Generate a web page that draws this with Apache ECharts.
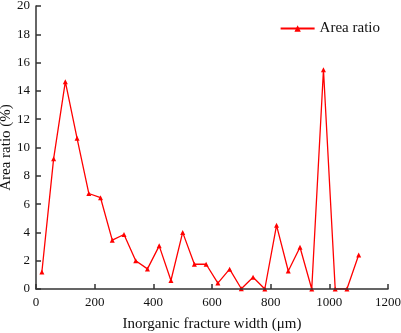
<!DOCTYPE html>
<html>
<head>
<meta charset="utf-8">
<script src="https://cdn.jsdelivr.net/npm/echarts@6/dist/echarts.min.js"></script>
<style>
	html, body { margin: 0; padding: 0; background: #fff; }
	#main { width: 401px; height: 333px; }
</style>
</head>
<body>
<div id="main"></div>
<script type="text/javascript">
	// fracture width (μm) and area ratio (%)
	var widths = [20, 60, 100, 140, 180, 220, 260, 300, 340, 380, 420, 460, 500, 540, 580,
		620, 660, 700, 740, 780, 820, 860, 900, 940, 980, 1020, 1060, 1100];
	var ratios = [1.2, 9.2, 14.65, 10.65, 6.75, 6.45, 3.45, 3.85, 2.0, 1.42, 3.05, 0.6, 4.0, 1.75, 1.75,
		0.42, 1.4, 0.02, 0.83, 0, 4.5, 1.27, 2.95, 0, 15.5, 0, 0, 2.4];
	var xTicks = [0, 200, 400, 600, 800, 1000, 1200];
	var yTicks = [0, 2, 4, 6, 8, 10, 12, 14, 16, 18, 20];

	var points = [];
	for (var i = 0; i < widths.length; i++) {
		points.push([widths[i], ratios[i]]);
	}

	var font = 'Liberation Serif, Times New Roman, serif';
	var chart = echarts.init(document.getElementById('main'));
	var option = {
		animation : false,
		textStyle : { fontFamily : font },
		grid : {
			left : 36,
			right : 13,
			top : 6,
			bottom : 44,
			outerBoundsMode : 'none',
			containLabel : false
		},
		legend : {
			right : 16,
			top : 16,
			itemWidth : 34,
			itemHeight : 8,
			itemGap : 4,
			textStyle : { fontFamily : font, fontSize : 15, color : '#111' },
			data : [ 'Area ratio' ]
		},
		xAxis : {
			type : 'value',
			min : xTicks[0],
			max : xTicks[xTicks.length - 1],
			interval : 200,
			z : 5,
			name : 'Inorganic fracture width (μm)',
			nameLocation : 'middle',
			nameGap : 28,
			nameMoveOverlap : false,
			nameTextStyle : { fontFamily : font, fontSize : 15, color : '#111' },
			splitLine : { show : false },
			axisLine : { lineStyle : { color : '#333', width : 1.5 } },
			axisTick : { inside : true, length : 5, lineStyle : { color : '#333', width : 1.5 } },
			axisLabel : {
				fontFamily : font, fontSize : 13, color : '#111', margin : 7,
				formatter : function(v) { return String(v); }
			}
		},
		yAxis : {
			type : 'value',
			min : yTicks[0],
			max : yTicks[yTicks.length - 1],
			interval : 2,
			z : 5,
			name : 'Area ratio (%)',
			nameLocation : 'middle',
			nameGap : 22,
			nameMoveOverlap : false,
			nameTextStyle : { fontFamily : font, fontSize : 15, color : '#111' },
			splitLine : { show : false },
			axisLine : { show : true, lineStyle : { color : '#333', width : 1.5 } },
			axisTick : { show : true, inside : true, length : 5, lineStyle : { color : '#333', width : 1.5 } },
			axisLabel : { fontFamily : font, fontSize : 13, color : '#111', margin : 6 }
		},
		series : [ {
			name : 'Area ratio',
			type : 'line',
			data : points,
			symbol : 'triangle',
			symbolSize : 5,
			color : '#ff0000',
			lineStyle : { color : '#ff0000', width : 1.3 },
			itemStyle : { color : '#ff0000' },
			z : 1
		} ]
	};
	chart.setOption(option);
</script>
</body>
</html>
